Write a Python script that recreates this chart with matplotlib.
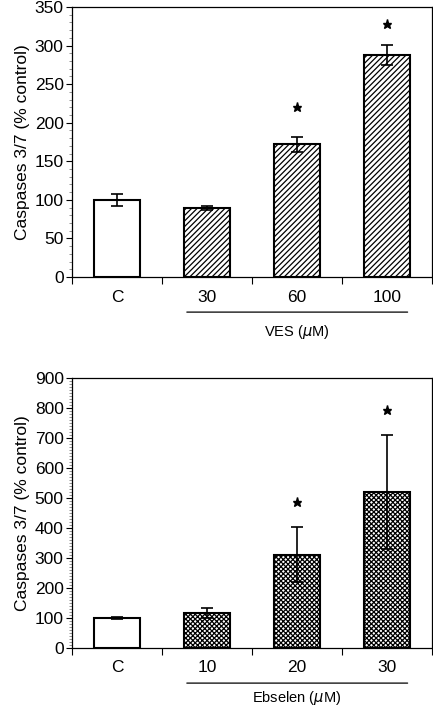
import numpy as np
import matplotlib.pyplot as plt
from matplotlib.ticker import MultipleLocator

plt.rcParams['font.family'] = ['Liberation Sans', 'DejaVu Sans']
plt.rcParams['hatch.linewidth'] = 0.9

# top panel: VES
ves_labels = ['C', '30', '60', '100']
ves_means = [100, 89, 172, 288]
ves_err = [8, 2.5, 9.5, 13]
ves_star = [None, None, 220, 328]

# bottom panel: Ebselen
ebs_labels = ['C', '10', '20', '30']
ebs_means = [100, 118, 311, 520]
ebs_err = [3, 17, 92, 190]
ebs_star = [None, None, 488, 794]

fig = plt.figure(figsize=(4.33, 7.09), dpi=100)
W, H = 433, 709


def panel(rect, labels, means, err, stars, ymax, ystep, hatch, group, group_y):
    ax = fig.add_axes([rect[0] / W, 1 - rect[3] / H, (rect[2] - rect[0]) / W, (rect[3] - rect[1]) / H])
    x = np.arange(len(labels))
    for i in x:
        ax.bar(i, means[i], width=0.51, color='white', edgecolor='black', linewidth=1.5,
               hatch=None if i == 0 else hatch, zorder=2)
    ax.errorbar(x, means, yerr=err, fmt='none', ecolor='black', elinewidth=1.2,
                capsize=4, capthick=1.2, zorder=3)
    for i, s in enumerate(stars):
        if s is not None:
            ax.plot(i, s, marker='*', color='black', markersize=6.5, zorder=3)
    ax.set_xlim(-0.5, len(labels) - 0.5)
    ax.set_ylim(0, ymax)
    ax.yaxis.set_major_locator(MultipleLocator(ystep))
    ax.yaxis.set_minor_locator(MultipleLocator(10))
    ax.set_xticks(np.arange(len(labels) + 1) - 0.5)
    ax.set_xticklabels([])
    ax.set_xticks(x, minor=True)
    ax.set_xticklabels(labels, minor=True, fontsize=12.5)
    ax.tick_params(axis='x', which='major', length=5, width=0.8, direction='out')
    ax.tick_params(axis='x', which='minor', length=0, pad=9)
    ax.tick_params(axis='y', which='major', length=4, width=0.8, labelsize=12.5, pad=2)
    ax.tick_params(axis='y', which='minor', length=2, width=0.5, color='0.4')
    for sp in ax.spines.values():
        sp.set_linewidth(0.9)
    ax.set_ylabel('Caspases 3/7 (% control)', fontsize=12.5, labelpad=3)
    # group line and label under treated bars
    ax.annotate('', xy=(0.745, -0.13), xytext=(3.26, -0.13),
                xycoords=('data', 'axes fraction'), textcoords=('data', 'axes fraction'),
                arrowprops=dict(arrowstyle='-', lw=0.9, color='black'))
    ax.text(2.0, group_y, group, transform=ax.get_xaxis_transform(), ha='center', va='center', fontsize=10.5)
    return ax


panel((72, 7, 432, 277), ves_labels, ves_means, ves_err, ves_star, 350, 50, '//////',
      r'VES ($\mu$M)', -0.205)
panel((72, 378, 432, 648), ebs_labels, ebs_means, ebs_err, ebs_star, 900, 100, 'xxxxxxx',
      r'Ebselen ($\mu$M)', -0.185)

fig.savefig('out.png', dpi=100)
